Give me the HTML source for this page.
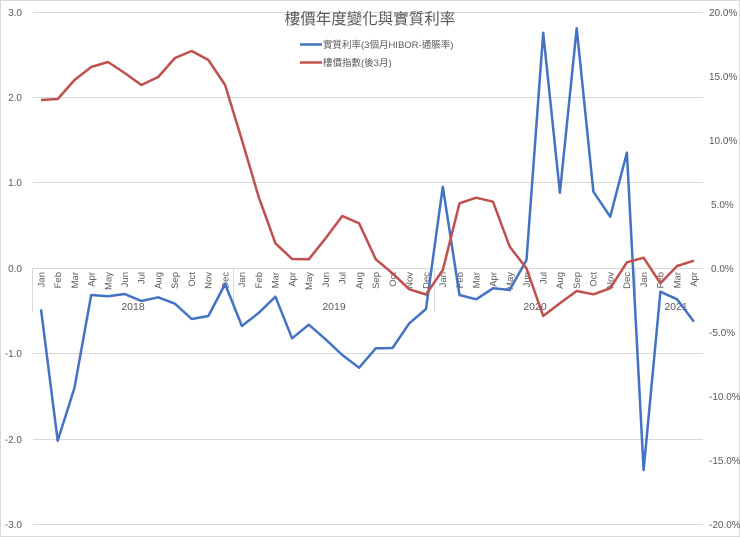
<!DOCTYPE html>
<html><head><meta charset="utf-8">
<style>
html,body{margin:0;padding:0;background:#fff;}
svg{display:block;}
text{font-family:"Liberation Sans","Noto Sans CJK TC",sans-serif;fill:#595959;}
</style></head>
<body>
<svg width="740" height="537" viewBox="0 0 740 537" xmlns="http://www.w3.org/2000/svg">
<rect x="0.5" y="0.5" width="739" height="536" fill="#fff" stroke="#d9d9d9" stroke-width="1"/>
<g stroke="#d9d9d9" stroke-width="1">
<line x1="33" y1="12.5" x2="703" y2="12.5"/>
<line x1="33" y1="97.5" x2="703" y2="97.5"/>
<line x1="33" y1="182.5" x2="703" y2="182.5"/>
<line x1="33" y1="268.5" x2="703" y2="268.5"/>
<line x1="33" y1="353.5" x2="703" y2="353.5"/>
<line x1="33" y1="439.5" x2="703" y2="439.5"/>
<line x1="33" y1="524.5" x2="703" y2="524.5"/>
<line x1="32.5" y1="268" x2="32.5" y2="312"/>
<line x1="233.5" y1="268" x2="233.5" y2="312"/>
<line x1="434.5" y1="268" x2="434.5" y2="312"/>
<line x1="635.5" y1="268" x2="635.5" y2="312"/>
</g>
<g font-size="10" text-anchor="end">
<text x="22" y="16">3.0</text>
<text x="22" y="101">2.0</text>
<text x="22" y="186">1.0</text>
<text x="22" y="272">0.0</text>
<text x="22" y="357">-1.0</text>
<text x="22" y="443">-2.0</text>
<text x="22" y="528">-3.0</text>
</g>
<g font-size="10" text-anchor="start">
<text x="709" y="16">20.0%</text>
<text x="709" y="80">15.0%</text>
<text x="709" y="144">10.0%</text>
<text x="711" y="208">5.0%</text>
<text x="711" y="272">0.0%</text>
<text x="709" y="336">-5.0%</text>
<text x="709" y="400">-10.0%</text>
<text x="709" y="464">-15.0%</text>
<text x="709" y="528">-20.0%</text>
</g>
<g font-size="9.5" text-anchor="end" id="months"></g>
<g font-size="10.5" text-anchor="middle">
<text x="133" y="310">2018</text>
<text x="334" y="310">2019</text>
<text x="535" y="310">2020</text>
<text x="676" y="310">2021</text>
</g>
<text x="370" y="24" font-size="15.5" text-anchor="middle">樓價年度變化與實質利率</text>
<line x1="300" y1="44.5" x2="322" y2="44.5" stroke="#4472c4" stroke-width="2.5"/>
<text x="323" y="48" font-size="9.5">實質利率(3個月HIBOR-通脹率)</text>
<line x1="300" y1="62.5" x2="322" y2="62.5" stroke="#c0504d" stroke-width="2.5"/>
<text x="323" y="66" font-size="9.5">樓價指數(後3月)</text>
<polyline id="blue" fill="none" stroke="#4472c4" stroke-width="2.5" stroke-linejoin="round" points=""/>
<polyline id="red" fill="none" stroke="#c0504d" stroke-width="2.5" stroke-linejoin="round" points=""/>
</svg>
<script>
var blue=[309.3,440.7,387.7,295,296.3,294,301,297.3,303.7,319,316,284,326,313,296.7,338.3,324.7,339.3,355,367.7,348.3,348,323.3,309,186.7,295,299.3,288.3,290,260,32.7,192.7,28.3,191.7,216.7,152.7,470,291.7,299.3,321.7];
var red=[100,99,80,67,62,73,85,77,58,51,60,85,140,196.7,243.3,259,259.3,238.3,216,223.3,259.3,273.3,289.3,294.5,270,203.3,197.7,201.7,246.7,268.3,316,303.3,291,294.3,288.3,262.3,257.7,283.3,266,260.7];
function X(i){return 41+i*16.74;}
function pts(a){return a.map(function(y,i){return X(i).toFixed(1)+","+y;}).join(" ");}
document.getElementById("blue").setAttribute("points",pts(blue));
document.getElementById("red").setAttribute("points",pts(red));
var m=["Jan","Feb","Mar","Apr","May","Jun","Jul","Aug","Sep","Oct","Nov","Dec"];
var g=document.getElementById("months");var ns="http://www.w3.org/2000/svg";
for(var i=0;i<40;i++){var t=document.createElementNS(ns,"text");t.setAttribute("transform","translate("+X(i).toFixed(1)+",272) rotate(-90)");t.setAttribute("dy","0.35em");t.textContent=m[i%12];g.appendChild(t);}
</script>
</body></html>
